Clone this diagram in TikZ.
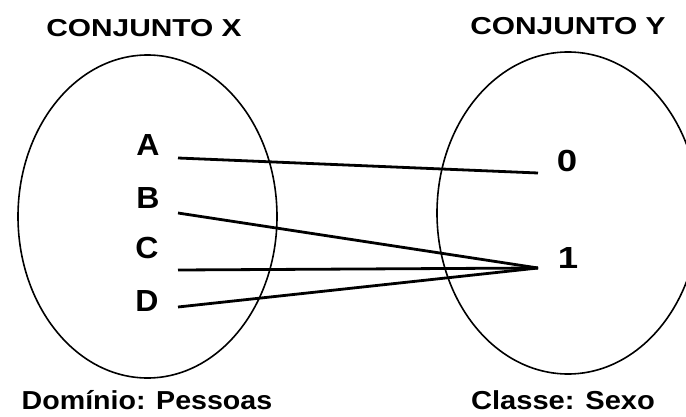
\documentclass[tikz,border=0pt]{standalone}
\usepackage{fontspec}
\setmainfont{Liberation Sans}
\usetikzlibrary{shapes.geometric}
\newcommand\sxtext[2]{\scalebox{#1}[1]{#2}}
\tikzset{
  setshape/.style={ellipse, draw, line width=1.6pt, inner sep=0pt},
  title/.style={anchor=base, inner sep=0pt, font=\bfseries\fontsize{24.5}{24.5}\selectfont},
  elem/.style={anchor=base, inner sep=0pt, font=\bfseries\fontsize{30.5}{30.5}\selectfont},
  caption/.style={anchor=base, inner sep=0pt, font=\bfseries\fontsize{26}{26}\selectfont},
  link/.style={line width=2.8pt}
}
\begin{document}
\begin{tikzpicture}[x=1pt,y=1pt]
\useasboundingbox (0,0) rectangle (686,416);
\clip (0,0) rectangle (686,416);
\fill[white] (0,0) rectangle (686,416);
% sets
\node[setshape, minimum width=259pt, minimum height=323pt] (X) at (147.5,199.5) {};
\node[setshape, minimum width=262pt, minimum height=322pt] (Y) at (568,203) {};
% titles
\node[title] (tx) at (144,379) {\sxtext{1.22}{CONJUNTO X}};
\node[title] (ty) at (568,381) {\sxtext{1.22}{CONJUNTO Y}};
% elements
\node[elem] (A) at (148,261) {\sxtext{1.05}{A}};
\node[elem] (B) at (148,208) {\sxtext{1.05}{B}};
\node[elem] (C) at (147,158) {\sxtext{1.05}{C}};
\node[elem] (D) at (147,105) {\sxtext{1.05}{D}};
\node[elem] (n0) at (567,244) {\sxtext{1.2}{0}};
\node[elem] (n1) at (568,148) {\sxtext{1.2}{1}};
% captions
\node[caption] (cx) at (147,7) {\sxtext{1.1}{Domínio: Pessoas}};
\node[caption] (cy) at (563,7) {\sxtext{1.12}{Classe: Sexo}};
% connector ends
\coordinate (a1) at (178,258);
\coordinate (b1) at (178,203);
\coordinate (c1) at (178,146);
\coordinate (d1) at (178,109);
\coordinate (z0) at (538,243);
\coordinate (z1) at (538,148);
\draw[link] (a1) -- (z0);
\draw[link] (b1) -- (z1);
\draw[link] (c1) -- (z1);
\draw[link] (d1) -- (z1);
\end{tikzpicture}
\end{document}
